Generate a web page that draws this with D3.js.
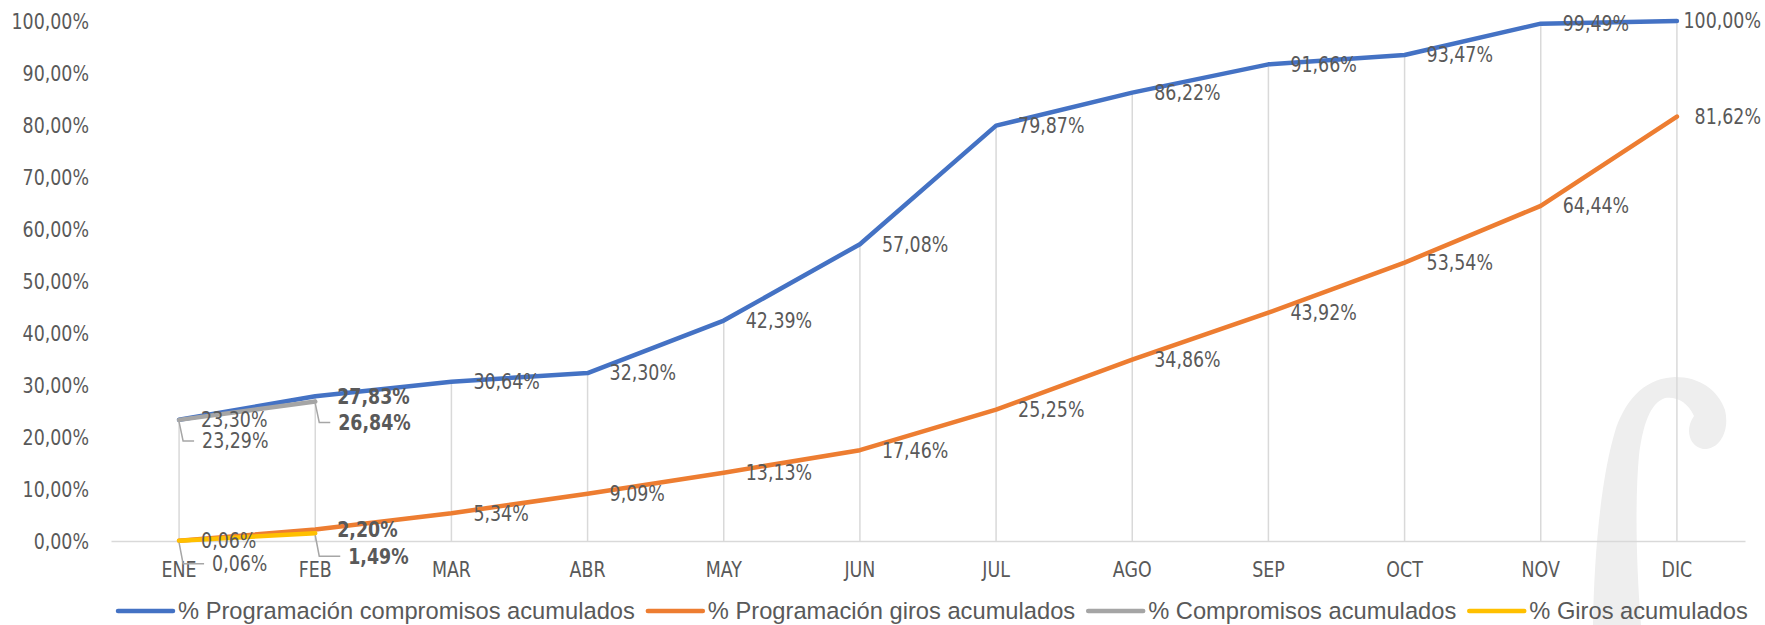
<!DOCTYPE html>
<html><head><meta charset="utf-8">
<script src="https://cdn.jsdelivr.net/npm/d3@7"></script>
<style>body{margin:0;background:#fff} svg{display:block}</style>
</head><body><svg id="c" width="1765" height="625"></svg>
<script>
// ---- data ----
const months = ["ENE","FEB","MAR","ABR","MAY","JUN","JUL","AGO","SEP","OCT","NOV","DIC"];
const progCompromisos = [23.30,27.83,30.64,32.30,42.39,57.08,79.87,86.22,91.66,93.47,99.49,100.00];
const progGiros = [0.06,2.20,5.34,9.09,13.13,17.46,25.25,34.86,43.92,53.54,64.44,81.62];
const compromisos = [23.29,26.84];
const giros = [0.06,1.49];
const yTicks = [0,10,20,30,40,50,60,70,80,90,100];
const seriesNames = ["% Programación compromisos acumulados","% Programación giros acumulados","% Compromisos acumulados","% Giros acumulados"];
const seriesColors = ["#4472C4","#ED7D31","#A5A5A5","#FFC000"];

// ---- setup ----
const svg = d3.select("#c");
const labelFont = "'DejaVu Sans Condensed','DejaVu Sans',sans-serif";
const SX = 0.88; // horizontal squeeze of label font
const legendFont = "'Liberation Sans',Arial,sans-serif";
const txtColor = "#595959";
const loc = d3.formatLocale({decimal:",", thousands:".", grouping:[3], currency:["","€"]});
const f2 = loc.format(".2f");
const pct = v => f2(v) + "%";

const x = d3.scaleBand().domain(months).range([111,1745]).padding(0);
const cx = m => x(m) + x.bandwidth()/2;
const y = d3.scaleLinear().domain([0,100]).range([541,21]);

const series = [progCompromisos, progGiros, compromisos, giros].map((vals,i)=>({
  name: seriesNames[i], color: seriesColors[i],
  pts: vals.map((v,j)=>({m: months[j], v, j}))
}));

// ---- watermark ----
svg.append("path")
  .attr("d","M1593,625 C1594,560 1600,480 1616,428 C1628,395 1648,378 1675,377 C1700,377 1718,390 1725,410 C1730,430 1720,450 1703,449 C1690,447 1684,430 1694,416 C1688,402 1676,396 1665,398 C1650,403 1643,425 1639,455 C1635,500 1636,560 1641,625 Z")
  .attr("fill","#eeeeee");

// ---- drop lines ----
const maxByMonth = months.map((m,j)=>d3.max(series, s => s.pts[j] ? s.pts[j].v : -Infinity));
svg.append("g").selectAll("line").data(months).join("line")
  .attr("x1", m=>cx(m)).attr("x2", m=>cx(m))
  .attr("y1", y(0)).attr("y2", (m,j)=>y(maxByMonth[j]))
  .attr("stroke","#d9d9d9").attr("stroke-width",1.5);

// ---- x axis ----
const xAxis = svg.append("g").attr("transform",`translate(0,${y(0)})`)
  .call(d3.axisBottom(x).tickSize(0).tickPadding(20));
xAxis.select(".domain").attr("stroke","#d9d9d9").attr("stroke-width",1.5);
xAxis.selectAll("text").attr("font-family",labelFont).attr("font-size",22).attr("fill",txtColor)
  .attr("dy",null).attr("dominant-baseline","central").attr("y",0)
  .attr("transform",`translate(0,29) scale(${SX},1)`);

// ---- y axis ----
const yAxis = svg.append("g").attr("transform","translate(89,0)")
  .call(d3.axisLeft(y).tickValues(yTicks).tickFormat(pct).tickSize(0).tickPadding(0));
yAxis.select(".domain").remove();
yAxis.selectAll("text").attr("font-family",labelFont).attr("font-size",22).attr("fill",txtColor)
  .attr("dy",null).attr("x",0).attr("dominant-baseline","central")
  .attr("transform",`scale(${SX},1)`);

// ---- lines ----
const line = d3.line().x(d=>cx(d.m)).y(d=>y(d.v));
svg.append("g").selectAll("path").data(series).join("path")
  .attr("d", s=>line(s.pts)).attr("fill","none")
  .attr("stroke", s=>s.color).attr("stroke-width",4.5)
  .attr("stroke-linejoin","round").attr("stroke-linecap","round");

// ---- data labels ----
const lg = svg.append("g");
series.forEach((s,si)=>{
  s.pts.forEach(p=>{
    const px = cx(p.m), py = y(p.v);
    let lx = px + 22, ly = py;
    const callout = si >= 2;
    if (callout) {
      ly = py + (si===2 ? 21 : 23);
      lx = px + (si===2 ? 23 : 33);
      const path = d3.path();
      path.moveTo(px, py + 2);
      path.lineTo(px + 4, ly);
      path.lineTo(lx - 8, ly);
      lg.append("path").attr("d", path.toString()).attr("fill","none")
        .attr("stroke","#a6a6a6").attr("stroke-width",1.5);
    }
    const t = lg.append("text").attr("x",0).attr("y",0)
      .attr("dominant-baseline","central")
      .attr("font-family",labelFont).attr("font-size",22).attr("fill",txtColor)
      .attr("font-weight", p.j===1 ? "bold" : "normal")
      .text(pct(p.v));
    const w = t.node().getComputedTextLength() * SX;
    if (lx + w > 1761) lx = 1761 - w;
    t.attr("transform",`translate(${lx},${ly}) scale(${SX},1)`);
  });
});

// ---- legend ----
const leg = svg.append("g").attr("transform","translate(118,611)");
let cur = 0;
series.forEach(s=>{
  const g = leg.append("g").attr("transform",`translate(${cur},0)`);
  g.append("line").attr("x1",0).attr("x2",55).attr("y1",0).attr("y2",0)
    .attr("stroke",s.color).attr("stroke-width",4.5).attr("stroke-linecap","round");
  const t = g.append("text").attr("x",60).attr("y",0).attr("dominant-baseline","central")
    .attr("font-family",legendFont).attr("font-size",23.7)
    .attr("fill",txtColor).text(s.name);
  cur += 60 + t.node().getComputedTextLength() + 13;
});
</script></body></html>
